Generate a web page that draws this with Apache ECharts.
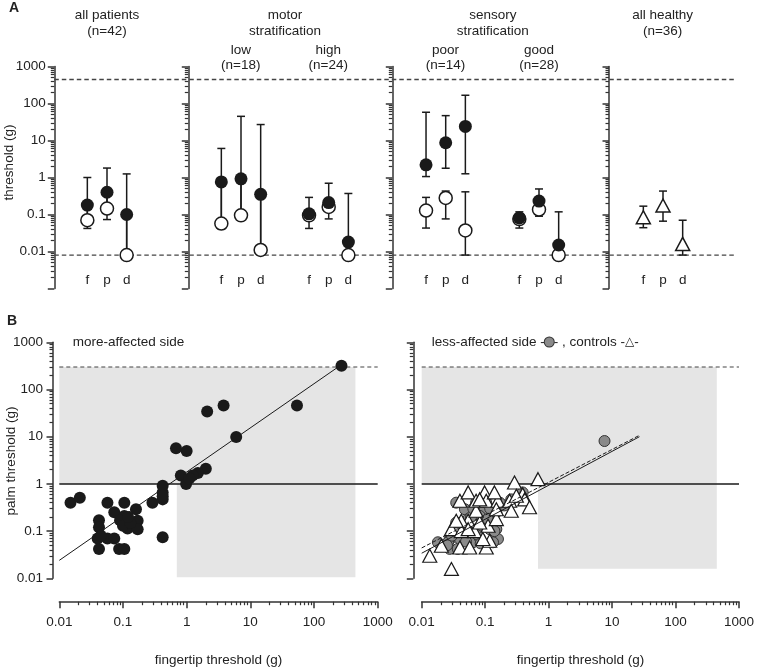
<!DOCTYPE html>
<html><head><meta charset="utf-8">
<script src="https://cdn.jsdelivr.net/npm/echarts@6/dist/echarts.min.js"></script>
<style>html,body{margin:0;padding:0;background:#fff}#c{width:758px;height:670px}</style>
</head><body><div id="c"></div>
<script>
// ---------------- data ----------------
const CATS = ['f', 'p', 'd'];
// panel A: [median, lower quartile, upper quartile] for f, p, d  (g)
const ALL_FILLED  = [[0.18, 0.07, 1.0], [0.40, 0.145, 1.8], [0.10, 0.008, 1.25]];
const ALL_OPEN    = [[0.07, 0.042, 0.18], [0.145, 0.073, 0.40], [0.008, 0.008, 0.10]];
const LOW_FILLED  = [[0.76, 0.057, 6.1], [0.92, 0.095, 45], [0.35, 0.011, 27]];
const LOW_OPEN    = [[0.057, 0.041, 0.76], [0.095, 0.07, 0.92], [0.011, 0.008, 0.35]];
const HIGH_FILLED = [[0.104, 0.095, 0.29], [0.21, 0.16, 0.70], [0.018, 0.008, 0.37]];
const HIGH_OPEN   = [[0.095, 0.042, 0.104], [0.16, 0.076, 0.21], [0.008, 0.008, 0.018]];
const POOR_FILLED = [[2.2, 1.06, 58], [8.7, 1.78, 47], [24, 1.26, 167]];
const POOR_OPEN   = [[0.128, 0.043, 0.29], [0.28, 0.076, 0.43], [0.037, 0.008, 0.41]];
const GOOD_FILLED = [[0.081, 0.075, 0.118], [0.23, 0.136, 0.49], [0.015, 0.008, 0.118]];
const GOOD_OPEN   = [[0.075, 0.043, 0.081], [0.136, 0.09, 0.23], [0.008, 0.008, 0.015]];
const HEALTHY     = [[0.084, 0.044, 0.168], [0.175, 0.066, 0.43], [0.016, 0.008, 0.07]];
const A_LIMITS = [447, 0.008];
const A_RANGE = [0.001, 1000];

// panel B: [fingertip, palm] thresholds (g)
const MORE_AFFECTED = [[0.015,0.40],[0.021,0.51],[0.057,0.40],[0.105,0.40],[0.073,0.25],[0.042,0.17],[0.042,0.12],
  [0.040,0.07],[0.057,0.07],[0.073,0.07],[0.042,0.042],[0.087,0.042],[0.105,0.042],[0.105,0.21],[0.118,0.114],
  [0.17,0.165],[0.17,0.11],[0.16,0.29],[0.29,0.40],[0.42,0.47],[0.42,0.66],[0.42,0.91],[0.42,0.074],[0.68,5.7],
  [1.0,5.0],[0.81,1.5],[0.98,1.0],[2.0,2.1],[1.5,1.7],[1.24,1.5],[2.1,34],[3.8,46],[6.0,9.8],[54,46],[270,320],
  [0.09,0.17],[0.1,0.13],[0.13,0.15],[0.42,0.55],[1.1,1.3],[0.12,0.2],[0.045,0.08]];
const LESS_AFFECTED = [[7.6,8.1],[0.018,0.058],[0.0276,0.066],[0.0276,0.042],[0.037,0.042],[0.035,0.40],[0.035,0.152],
  [0.054,0.11],[0.064,0.058],[0.092,0.25],[0.15,0.25],[0.159,0.068],[0.15,0.11],[0.133,0.058],[0.072,0.40],[0.048,0.29],
  [0.118,0.11],[0.082,0.072],[0.040,0.068],[0.026,0.058],[0.054,0.18],[0.104,0.40],[0.14,0.27],[0.258,0.47],[0.39,0.66],
  [0.082,0.21],[0.057,0.094],[0.098,0.152],[0.045,0.12],[0.06,0.2],[0.075,0.085],[0.12,0.3],[0.2,0.35],[0.09,0.13],
  [0.03,0.08],[0.05,0.06],[0.11,0.18],[0.065,0.3],[0.14,0.1],[0.025,0.05],[0.085,0.055],[0.17,0.4]];
const CONTROLS = [[0.0134,0.030],[0.0204,0.049],[0.0294,0.0158],[0.0294,0.11],[0.040,0.045],[0.057,0.045],[0.104,0.045],
  [0.118,0.0625],[0.042,0.10],[0.068,0.10],[0.054,0.166],[0.042,0.166],[0.111,0.13],[0.082,0.152],[0.15,0.18],[0.072,0.27],
  [0.040,0.44],[0.054,0.66],[0.072,0.44],[0.098,0.66],[0.104,0.44],[0.159,0.44],[0.243,0.44],[0.258,0.27],[0.29,1.07],
  [0.68,1.26],[0.39,0.60],[0.42,0.47],[0.50,0.32],[0.31,0.56],[0.15,0.29],[0.092,0.068],[0.035,0.166],[0.054,0.11],
  [0.14,0.66],[0.082,0.47]];
const FIT_MORE = [[0.01, 0.024], [265, 330]];
const FIT_LESS = [[0.01, 0.034], [27, 10]];
const FIT_CONTROLS = [[0.01, 0.044], [27, 10.7]];
const B_LIMIT = 300;
const B_NORMAL = 1;
const B_RANGE = [0.01, 1000];
const SHADE_MORE = [[0.01, 1, 447, 300], [0.7, 0.0105, 447, 1]];
const SHADE_LESS = [[0.01, 1, 447, 300], [0.68, 0.016, 447, 1]];

// ---------------- styling ----------------
const FF = '"Liberation Sans", Arial, Helvetica, sans-serif';
const FS = 13.5;
const INK = '#222';
const AX = '#333';
const DOT = '#1a1a1a';
const axLine = { color: AX, width: 1.5 };
const lab = { color: INK, fontFamily: FF, fontSize: FS };

function minorTicks(e0, e1) {
  const out = [];
  for (let e = e0; e < e1; e++) for (let k = 2; k <= 9; k++) out.push(+(k * Math.pow(10, e)).toPrecision(3));
  return out;
}
const fmt = v => (v < 0.005 ? '' : String(+(+v).toPrecision(4)));

const grid = [], xAxis = [], yAxis = [], series = [], graphic = [];

function logAxis(dim, gridIndex, range, offset, opts) {
  const base = {
    type: 'log', logBase: 10, min: range[0], max: range[1], gridIndex,
    position: dim === 'y' ? 'left' : 'bottom', offset,
    splitLine: { show: false }, silent: true
  };
  const major = Object.assign({}, base, {
    show: opts.visible,
    axisLine: { show: true, onZero: false, lineStyle: axLine },
    axisTick: { show: true, length: 6.5, lineStyle: axLine },
    axisLabel: Object.assign({ show: opts.labels, margin: opts.margin, formatter: fmt }, lab)
  });
  const arr = dim === 'y' ? yAxis : xAxis;
  const idx = arr.length;
  arr.push(major);
  if (opts.visible) {
    arr.push(Object.assign({}, base, {
      axisLine: { show: false },
      axisLabel: { show: false },
      axisTick: { show: true, length: 3.5, lineStyle: { color: AX, width: 1.2 },
        customValues: minorTicks(Math.round(Math.log10(range[0])), Math.round(Math.log10(range[1]))) }
    }));
  }
  return idx;
}

function errRender(params, api) {
  const i = api.value(0);
  const lo = api.coord([i, api.value(1)]);
  const hi = api.coord([i, api.value(2)]);
  const w = 4, s = { stroke: DOT, lineWidth: 1.5 };
  return { type: 'group', children: [
    { type: 'line', shape: { x1: lo[0], y1: lo[1], x2: hi[0], y2: hi[1] }, style: s },
    { type: 'line', shape: { x1: lo[0] - w, y1: lo[1], x2: lo[0] + w, y2: lo[1] }, style: s },
    { type: 'line', shape: { x1: hi[0] - w, y1: hi[1], x2: hi[0] + w, y2: hi[1] }, style: s }
  ] };
}

// ---------------- panel A ----------------
const A_TOP = 66.5, A_H = 222, A_W = 59;
const groupsA = [
  { cx: 107,   axisX: 54.3, labels: true,  sets: [ALL_OPEN, ALL_FILLED] },
  { cx: 241,   axisX: 188.3,               sets: [LOW_OPEN, LOW_FILLED] },
  { cx: 328.7,                             sets: [HIGH_OPEN, HIGH_FILLED] },
  { cx: 445.7, axisX: 392.3,               sets: [POOR_OPEN, POOR_FILLED] },
  { cx: 539,                               sets: [GOOD_OPEN, GOOD_FILLED] },
  { cx: 663,   axisX: 609,   tri: true,    sets: [HEALTHY] }
];
groupsA.forEach(g => {
  const gi = grid.length;
  const left = g.cx - A_W / 2;
  grid.push({ left, top: A_TOP, width: A_W, height: A_H });
  const xi = xAxis.length;
  xAxis.push({ type: 'category', data: CATS, gridIndex: gi, boundaryGap: true, silent: true,
    axisLine: { show: false }, axisTick: { show: false }, splitLine: { show: false },
    axisLabel: Object.assign({ inside: true, margin: 1 }, lab) });
  const vis = g.axisX !== undefined;
  const yi = logAxis('y', gi, A_RANGE, vis ? left - g.axisX : 0, { visible: vis, labels: !!g.labels, margin: 8.5 });
  g.sets.forEach((rows, k) => {
    series.push({ type: 'custom', xAxisIndex: xi, yAxisIndex: yi, z: 2, silent: true, clip: false,
      data: rows.map((r, i) => [i, r[1], r[2]]), renderItem: errRender });
  });
  g.sets.forEach((rows, k) => {
    const filled = !g.tri && k === 1;
    series.push({ type: 'scatter', xAxisIndex: xi, yAxisIndex: yi, z: 3 + k, silent: true,
      symbol: g.tri ? 'triangle' : 'circle', symbolSize: g.tri ? [14, 13] : 13,
      itemStyle: filled ? { color: DOT, opacity: 1 } : { color: '#fff', borderColor: DOT, borderWidth: 1.5, opacity: 1 },
      data: rows.map((r, i) => [i, r[0]]) });
  });
});
// reference lines across panel A
{
  const gi = grid.length;
  grid.push({ left: 54.3, top: A_TOP, width: 680.7, height: A_H });
  const xi = xAxis.length;
  xAxis.push({ type: 'value', min: 0, max: 1, gridIndex: gi, show: false });
  const yi = yAxis.length;
  yAxis.push({ type: 'log', logBase: 10, min: A_RANGE[0], max: A_RANGE[1], gridIndex: gi, show: false });
  A_LIMITS.forEach(v => series.push({ type: 'line', xAxisIndex: xi, yAxisIndex: yi, symbol: 'none', silent: true, z: 1,
    lineStyle: { color: '#444', width: 1.4, type: [4.5, 3] }, data: [[0, v], [1, v]] }));
}

// ---------------- panel B ----------------
const B_TOP = 342.3, B_H = 236;
function shadeRender(params, api) {
  const p0 = api.coord([api.value(0), api.value(1)]);
  const p1 = api.coord([api.value(2), api.value(3)]);
  return { type: 'rect', shape: { x: Math.min(p0[0], p1[0]), y: Math.min(p0[1], p1[1]),
    width: Math.abs(p1[0] - p0[0]), height: Math.abs(p1[1] - p0[1]) }, style: { fill: '#e5e5e5' } };
}
function panelB(left, width, yAxisX, yLabels, shades, build) {
  const gi = grid.length;
  grid.push({ left, top: B_TOP, width, height: B_H });
  const xi = logAxis('x', gi, B_RANGE, 23.4, { visible: true, labels: true, margin: 14 });
  const yi = logAxis('y', gi, B_RANGE, left - yAxisX, { visible: true, labels: yLabels, margin: 10 });
  const base = { xAxisIndex: xi, yAxisIndex: yi, silent: true };
  series.push(Object.assign({ type: 'custom', z: 0, renderItem: shadeRender, data: shades, clip: false }, base));
  series.push(Object.assign({ type: 'line', z: 1, symbol: 'none', lineStyle: { color: DOT, width: 1.5 },
    data: [[B_RANGE[0], B_NORMAL], [B_RANGE[1], B_NORMAL]] }, base));
  series.push(Object.assign({ type: 'line', z: 1, symbol: 'none', lineStyle: { color: '#444', width: 1.1, type: [4, 3] },
    data: [[B_RANGE[0], B_LIMIT], [B_RANGE[1], B_LIMIT]] }, base));
  build(base);
}
panelB(59.3, 318.4, 53, true, SHADE_MORE, base => {
  series.push(Object.assign({ type: 'line', z: 2, symbol: 'none', lineStyle: { color: DOT, width: 1 }, data: FIT_MORE }, base));
  series.push(Object.assign({ type: 'scatter', z: 3, symbol: 'circle', symbolSize: 12,
    itemStyle: { color: DOT, opacity: 1 }, data: MORE_AFFECTED }, base));
});
panelB(421.7, 317.3, 413.3, false, SHADE_LESS, base => {
  series.push(Object.assign({ type: 'scatter', z: 3, symbol: 'circle', symbolSize: 11,
    itemStyle: { color: '#8a8a8a', borderColor: '#333', borderWidth: 1, opacity: 1 }, data: LESS_AFFECTED }, base));
  series.push(Object.assign({ type: 'scatter', z: 4, symbol: 'triangle', symbolSize: [14, 13],
    itemStyle: { color: '#fff', borderColor: DOT, borderWidth: 1.2, opacity: 1 }, data: CONTROLS }, base));
  series.push(Object.assign({ type: 'line', z: 5, symbol: 'none', lineStyle: { color: DOT, width: 1 }, data: FIT_LESS }, base));
  series.push(Object.assign({ type: 'line', z: 5, symbol: 'none', lineStyle: { color: DOT, width: 1, type: [4, 2] }, data: FIT_CONTROLS }, base));
});

// ---------------- text ----------------
function txt(text, x, y, extra) {
  graphic.push(Object.assign({ type: 'text', x, y, silent: true,
    style: Object.assign({ text, fill: INK, fontFamily: FF, fontSize: FS, align: 'center', verticalAlign: 'middle' }, (extra && extra.style) || {}) },
    extra && extra.rotation !== undefined ? { rotation: extra.rotation } : {}));
}
txt('A', 14, 8.5, { style: { fontWeight: 'bold', fontSize: 14 } });
txt('B', 12, 321, { style: { fontWeight: 'bold', fontSize: 14 } });
txt('all patients', 107, 15.5); txt('(n=42)', 107, 31.5);
txt('motor', 285, 15.5); txt('stratification', 285, 30.8);
txt('low', 240.8, 50); txt('(n=18)', 240.8, 65.5);
txt('high', 328.3, 50); txt('(n=24)', 328.3, 65.5);
txt('sensory', 492.8, 15.5); txt('stratification', 492.8, 30.8);
txt('poor', 445.5, 50); txt('(n=14)', 445.5, 65.5);
txt('good', 539, 50); txt('(n=28)', 539, 65.5);
txt('all healthy', 662.6, 15.5); txt('(n=36)', 662.6, 31.5);
txt('threshold (g)', 9.5, 162.5, { rotation: Math.PI / 2 });
txt('palm threshold (g)', 11, 461, { rotation: Math.PI / 2 });
txt('fingertip threshold (g)', 218.5, 660);
txt('fingertip threshold (g)', 580.5, 660);
txt('more-affected side', 72.7, 342, { style: { align: 'left' } });
graphic.push({ type: 'text', x: 431.7, y: 342, silent: true,
  style: { text: 'less-affected side -{c| }- , controls -{t|△}-', fill: INK, fontFamily: FF, fontSize: FS,
    align: 'left', verticalAlign: 'middle',
    rich: {
      c: { width: 9, height: 9, backgroundColor: '#8a8a8a', borderColor: '#333', borderWidth: 1, borderRadius: 5 },
      t: { fontFamily: '"DejaVu Sans", sans-serif', fontSize: 12, fill: INK }
    } } });

const chart = echarts.init(document.getElementById('c'), null, { renderer: 'canvas', width: 758, height: 670 });
chart.setOption({ animation: false, backgroundColor: '#fff', grid, xAxis, yAxis, series, graphic });
</script></body></html>
